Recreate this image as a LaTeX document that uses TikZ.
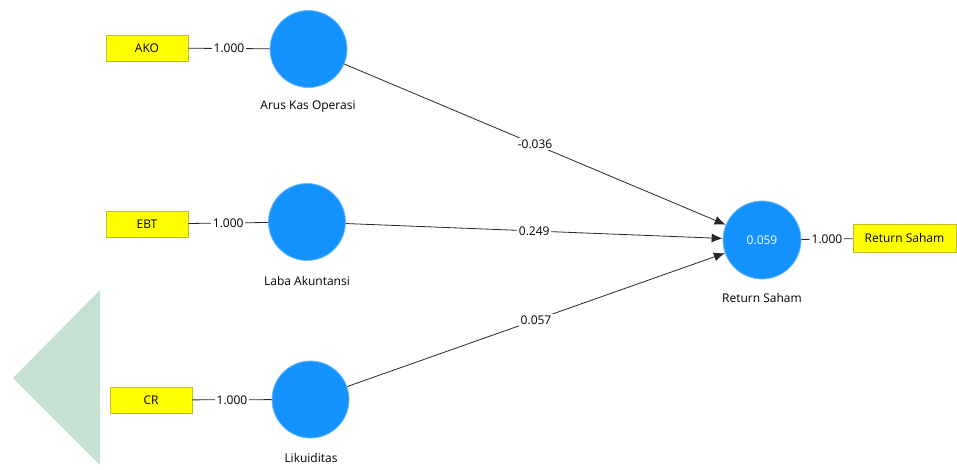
\documentclass[tikz,border=0pt]{standalone}
\usepackage{fontspec}
\setmainfont{Open Sans}
\usetikzlibrary{arrows.meta}
\definecolor{latent}{RGB}{20,146,255}
\definecolor{latentedge}{RGB}{110,185,255}
\definecolor{indfill}{RGB}{255,255,0}
\definecolor{indedge}{RGB}{190,190,40}
\definecolor{markgreen}{RGB}{198,224,210}
\definecolor{wire}{RGB}{40,40,40}
\tikzset{
  txt/.style={font=\fontsize{12}{14}\selectfont},
  latentvar/.style={circle, fill=latent, draw=latentedge, line width=0.8pt,
    minimum size=77pt, inner sep=0pt, text=white, txt},
  indicator/.style={rectangle, fill=indfill, draw=indedge, line width=0.8pt,
    minimum width=82pt, minimum height=26pt, inner sep=0pt, txt},
  caption/.style={txt, inner sep=0pt},
  weight/.style={fill=white, inner sep=1.5pt, txt},
  loading/.style={draw=wire, line width=0.8pt},
  structpath/.style={draw=wire, line width=0.8pt, -{Latex[length=11pt,width=9pt]}}
}
\begin{document}
\begin{tikzpicture}[x=1pt,y=-1pt]
\useasboundingbox (0,0) rectangle (957,470);
% faint arrow-shaped mark on the left
\fill[fill=markgreen] (100,290) -- (13,378) -- (100,465) -- cycle;

% latent variables
\node[latentvar] (ako) at (308.5,49) {};
\node[latentvar] (laba) at (307,222) {};
\node[latentvar] (lik) at (310.5,399.5) {};
\node[latentvar, minimum size=78pt] (ret) at (762,240) {0.059};

% captions under the circles
\node[caption] (cako) at (308,107) {Arus Kas Operasi};
\node[caption] (claba) at (307,281) {Laba Akuntansi};
\node[caption] (clik) at (311,458) {Likuiditas};
\node[caption] (cret) at (762,298) {Return Saham};

% indicators
\node[indicator] (iako) at (147,48) {AKO};
\node[indicator] (iebt) at (147,224) {EBT};
\node[indicator] (icr) at (151,400) {CR};
\node[indicator, minimum width=103pt, minimum height=28pt] (iret) at (904.5,238) {Return Saham};

% outer loadings
\draw[loading] (iako) -- node[weight] {1.000} (ako);
\draw[loading] (iebt) -- node[weight] {1.000} (laba);
\draw[loading] (icr) -- node[weight] {1.000} (lik);
\draw[loading] (ret) -- node[weight] {1.000} (iret);

% structural paths
\draw[structpath] (ako) -- node[weight] {-0.036} (ret);
\draw[structpath] (laba) -- node[weight] {0.249} (ret);
\draw[structpath] (lik) -- node[weight] {0.057} (ret);
\end{tikzpicture}
\end{document}
